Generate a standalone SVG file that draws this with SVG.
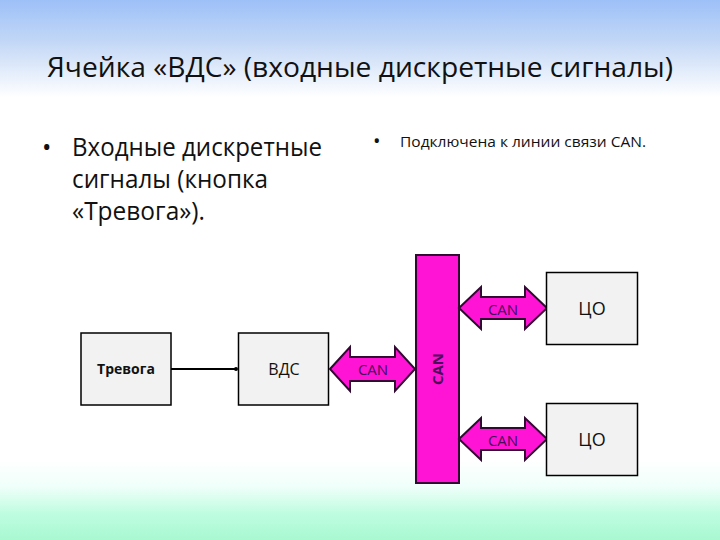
<svg xmlns="http://www.w3.org/2000/svg" width="720" height="540" viewBox="0 0 720 540">
<defs>
<linearGradient id="bg" x1="0" y1="0" x2="0" y2="1">
<stop offset="0" stop-color="#9dc0f8"/>
<stop offset="0.08" stop-color="#c4d8f6"/>
<stop offset="0.18" stop-color="#ffffff"/>
<stop offset="0.85" stop-color="#ffffff"/>
<stop offset="0.9" stop-color="#f0fffb"/>
<stop offset="0.95" stop-color="#bffde0"/>
<stop offset="1" stop-color="#a8f8d2"/>
</linearGradient>
<style>
text{font-family:"Open Sans","Liberation Sans",sans-serif;fill:#111}
.box{fill:#f2f2f2;stroke:#000;stroke-width:1.5}
.arr{fill:#ff14d6;stroke:#300a30;stroke-width:2;stroke-linejoin:miter}
.can{font-size:15px;fill:#4a0b5a;text-anchor:middle}
.lbl{text-anchor:middle}
</style>
</defs>
<rect width="720" height="540" fill="url(#bg)"/>
<text x="47" y="77" font-size="28" textLength="626" lengthAdjust="spacingAndGlyphs">Ячейка «ВДС» (входные дискретные сигналы)</text>
<g id="text-left" font-size="25">
<text x="42" y="156" font-size="25">•</text>
<text x="72" y="156" font-size="25" textLength="250" lengthAdjust="spacingAndGlyphs">Входные дискретные</text>
<text x="72" y="188" font-size="25" textLength="196" lengthAdjust="spacingAndGlyphs">сигналы (кнопка</text>
<text x="72" y="220" font-size="25" textLength="133" lengthAdjust="spacingAndGlyphs">«Тревога»).</text>
</g>
<g id="text-right">
<text x="373" y="148" font-size="20">•</text>
<text x="400" y="147" font-size="14" textLength="246" lengthAdjust="spacingAndGlyphs">Подключена к линии связи CAN.</text>
</g>
<g id="connectors">
<line x1="171" y1="369" x2="237" y2="369" stroke="#000" stroke-width="2"/>
<circle cx="236" cy="369" r="2" fill="#000"/>
</g>
<g id="trevoga">
<rect class="box" x="81" y="333" width="90" height="72"/>
<text class="lbl" x="126" y="374" font-size="14" font-weight="bold">Тревога</text>
</g>
<g id="vds">
<rect class="box" x="238.5" y="333" width="90" height="72" stroke-width="3"/>
<text class="lbl" x="284" y="375" font-size="16">ВДС</text>
</g>
<g id="arrow-left">
<path class="arr" d="M330,369 L350,347 L350,357 L395,357 L395,347 L415,369 L395,391 L395,381 L350,381 L350,391 Z"/>
<text class="can" x="373" y="375">CAN</text>
</g>
<g id="bus">
<rect class="arr" x="416" y="255" width="43" height="228"/>
<text class="can" transform="translate(443,369) rotate(-90)" x="0" y="0" font-size="16" font-weight="bold">CAN</text>
</g>
<g id="arrow-top">
<path class="arr" d="M459,308 L481,287 L481,297 L525,297 L525,287 L547,308 L525,329 L525,319 L481,319 L481,329 Z"/>
<text class="can" x="503" y="315">CAN</text>
</g>
<g id="arrow-bottom">
<path class="arr" d="M459,439 L481,418 L481,428 L525,428 L525,418 L547,439 L525,460 L525,450 L481,450 L481,460 Z"/>
<text class="can" x="503" y="446">CAN</text>
</g>
<g id="co-top">
<rect class="box" x="546.5" y="272.5" width="91" height="72"/>
<text class="lbl" x="592" y="315" font-size="18">ЦО</text>
</g>
<g id="co-bottom">
<rect class="box" x="546.5" y="403.5" width="91" height="72"/>
<text class="lbl" x="592" y="446" font-size="18">ЦО</text>
</g>
</svg>
